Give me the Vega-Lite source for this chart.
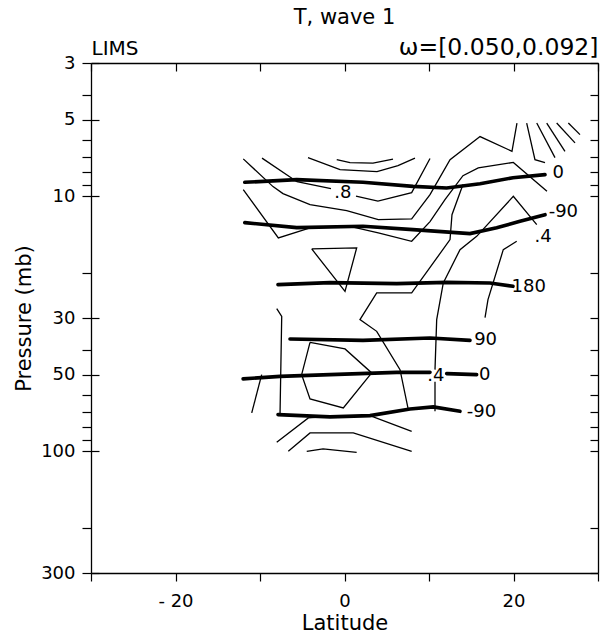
{
  "$schema": "https://vega.github.io/schema/vega-lite/v6.json",
  "width": 507,
  "height": 510,
  "autosize": {"type": "none"},
  "padding": {"left": 91, "top": 63, "right": 2, "bottom": 65},
  "background": "white",
  "config": {
    "view": {"stroke": null},
    "font": "DejaVu Sans",
    "axis": {
      "domainColor": "black", "domainWidth": 1.3,
      "tickColor": "black", "tickWidth": 1.2,
      "labelColor": "black", "titleColor": "black",
      "labelFont": "DejaVu Sans", "titleFont": "DejaVu Sans",
      "labelFontSize": 18, "titleFontSize": 21, "titleFontWeight": "normal",
      "grid": false, "labelFlush": false, "labelOverlap": false
    }
  },
  "title": {"text": "T, wave 1", "fontSize": 21, "fontWeight": "normal", "font": "DejaVu Sans", "color": "black", "frame": "group", "anchor": "middle", "offset": 7},
  "datasets": {
    "contours": [
      {"id": "P1", "kind": "phase", "i": 0, "lat": -11.8, "p": 8.81},
      {"id": "P1", "kind": "phase", "i": 1, "lat": -5.66, "p": 8.6},
      {"id": "P1", "kind": "phase", "i": 2, "lat": 2.19, "p": 8.81},
      {"id": "P1", "kind": "phase", "i": 3, "lat": 8.11, "p": 9.14},
      {"id": "P1", "kind": "phase", "i": 4, "lat": 12.09, "p": 9.27},
      {"id": "P1", "kind": "phase", "i": 5, "lat": 16.04, "p": 8.92},
      {"id": "P1", "kind": "phase", "i": 6, "lat": 19.94, "p": 8.45},
      {"id": "P1", "kind": "phase", "i": 7, "lat": 23.73, "p": 8.22},

      {"id": "P2", "kind": "phase", "i": 0, "lat": -11.8, "p": 12.68},
      {"id": "P2", "kind": "phase", "i": 1, "lat": -5.66, "p": 13.27},
      {"id": "P2", "kind": "phase", "i": 2, "lat": 2.19, "p": 13.11},
      {"id": "P2", "kind": "phase", "i": 3, "lat": 8.11, "p": 13.51},
      {"id": "P2", "kind": "phase", "i": 4, "lat": 14.85, "p": 14.0},
      {"id": "P2", "kind": "phase", "i": 5, "lat": 18.01, "p": 13.27},
      {"id": "P2", "kind": "phase", "i": 6, "lat": 20.77, "p": 12.53},
      {"id": "P2", "kind": "phase", "i": 7, "lat": 23.73, "p": 11.8},

      {"id": "P3", "kind": "phase", "i": 0, "lat": -7.87, "p": 22.2},
      {"id": "P3", "kind": "phase", "i": 1, "lat": -1.72, "p": 21.8},
      {"id": "P3", "kind": "phase", "i": 2, "lat": 6.18, "p": 22.0},
      {"id": "P3", "kind": "phase", "i": 3, "lat": 12.09, "p": 21.74},
      {"id": "P3", "kind": "phase", "i": 4, "lat": 17.22, "p": 21.86},
      {"id": "P3", "kind": "phase", "i": 5, "lat": 19.94, "p": 22.54},

      {"id": "P4", "kind": "phase", "i": 0, "lat": -6.45, "p": 36.25},
      {"id": "P4", "kind": "phase", "i": 1, "lat": 2.19, "p": 36.71},
      {"id": "P4", "kind": "phase", "i": 2, "lat": 10.12, "p": 35.92},
      {"id": "P4", "kind": "phase", "i": 3, "lat": 14.85, "p": 36.71},

      {"id": "P5a", "kind": "phase", "i": 0, "lat": -12.0, "p": 52.0},
      {"id": "P5a", "kind": "phase", "i": 1, "lat": -7.63, "p": 50.81},
      {"id": "P5a", "kind": "phase", "i": 2, "lat": -1.72, "p": 50.04},
      {"id": "P5a", "kind": "phase", "i": 3, "lat": 6.18, "p": 49.0},
      {"id": "P5a", "kind": "phase", "i": 4, "lat": 10.12, "p": 49.0},
      {"id": "P5b", "kind": "phase", "i": 0, "lat": 12.09, "p": 49.59},
      {"id": "P5b", "kind": "phase", "i": 1, "lat": 15.64, "p": 50.04},

      {"id": "P6", "kind": "phase", "i": 0, "lat": -7.87, "p": 71.79},
      {"id": "P6", "kind": "phase", "i": 1, "lat": -1.72, "p": 73.29},
      {"id": "P6", "kind": "phase", "i": 2, "lat": 3.02, "p": 72.44},
      {"id": "P6", "kind": "phase", "i": 3, "lat": 7.75, "p": 68.19},
      {"id": "P6", "kind": "phase", "i": 4, "lat": 10.51, "p": 66.97},
      {"id": "P6", "kind": "phase", "i": 5, "lat": 13.67, "p": 69.68},

      {"id": "A1", "kind": "amplitude", "i": 0, "lat": -0.92, "p": 7.18},
      {"id": "A1", "kind": "amplitude", "i": 1, "lat": 0.65, "p": 7.38},
      {"id": "A1", "kind": "amplitude", "i": 2, "lat": 3.37, "p": 7.41},
      {"id": "A1", "kind": "amplitude", "i": 3, "lat": 5.74, "p": 7.15},

      {"id": "A2", "kind": "amplitude", "i": 0, "lat": -4.32, "p": 7.05},
      {"id": "A2", "kind": "amplitude", "i": 1, "lat": -0.53, "p": 7.86},
      {"id": "A2", "kind": "amplitude", "i": 2, "lat": 3.85, "p": 8.0},
      {"id": "A2", "kind": "amplitude", "i": 3, "lat": 6.33, "p": 7.58},
      {"id": "A2", "kind": "amplitude", "i": 4, "lat": 8.34, "p": 7.08},

      {"id": "A3a", "kind": "amplitude", "i": 0, "lat": -9.76, "p": 7.08},
      {"id": "A3a", "kind": "amplitude", "i": 1, "lat": -5.62, "p": 8.76},
      {"id": "A3a", "kind": "amplitude", "i": 2, "lat": -1.6, "p": 9.33},
      {"id": "A3b", "kind": "amplitude", "i": 0, "lat": 1.36, "p": 9.98},
      {"id": "A3b", "kind": "amplitude", "i": 1, "lat": 3.96, "p": 10.44},
      {"id": "A3b", "kind": "amplitude", "i": 2, "lat": 7.95, "p": 9.67},
      {"id": "A3b", "kind": "amplitude", "i": 3, "lat": 10.12, "p": 7.11},

      {"id": "A4", "kind": "amplitude", "i": 0, "lat": -11.98, "p": 7.13},
      {"id": "A4", "kind": "amplitude", "i": 1, "lat": -8.46, "p": 9.16},
      {"id": "A4", "kind": "amplitude", "i": 2, "lat": -7.28, "p": 9.76},
      {"id": "A4", "kind": "amplitude", "i": 3, "lat": -4.08, "p": 10.78},
      {"id": "A4", "kind": "amplitude", "i": 4, "lat": 0.26, "p": 11.38},
      {"id": "A4", "kind": "amplitude", "i": 5, "lat": 4.0, "p": 12.34},
      {"id": "A4", "kind": "amplitude", "i": 6, "lat": 7.95, "p": 12.26},
      {"id": "A4", "kind": "amplitude", "i": 7, "lat": 10.12, "p": 9.85},
      {"id": "A4", "kind": "amplitude", "i": 8, "lat": 12.49, "p": 7.18},
      {"id": "A4", "kind": "amplitude", "i": 9, "lat": 16.04, "p": 5.83},
      {"id": "A4", "kind": "amplitude", "i": 10, "lat": 19.82, "p": 6.66},
      {"id": "A4", "kind": "amplitude", "i": 11, "lat": 20.41, "p": 5.16},

      {"id": "A5", "kind": "amplitude", "i": 0, "lat": -11.98, "p": 9.41},
      {"id": "A5", "kind": "amplitude", "i": 1, "lat": -7.83, "p": 14.56},
      {"id": "A5", "kind": "amplitude", "i": 2, "lat": -4.08, "p": 13.3},
      {"id": "A5", "kind": "amplitude", "i": 3, "lat": 0.26, "p": 13.03},
      {"id": "A5", "kind": "amplitude", "i": 4, "lat": 4.0, "p": 13.92},
      {"id": "A5", "kind": "amplitude", "i": 5, "lat": 7.95, "p": 15.01},
      {"id": "A5", "kind": "amplitude", "i": 6, "lat": 10.12, "p": 12.56},
      {"id": "A5", "kind": "amplitude", "i": 7, "lat": 11.89, "p": 10.3},
      {"id": "A5", "kind": "amplitude", "i": 8, "lat": 14.02, "p": 8.3},
      {"id": "A5", "kind": "amplitude", "i": 9, "lat": 15.83, "p": 7.74},
      {"id": "A5", "kind": "amplitude", "i": 10, "lat": 19.98, "p": 7.36},
      {"id": "A5", "kind": "amplitude", "i": 11, "lat": 23.96, "p": 9.56},

      {"id": "A6", "kind": "amplitude", "i": 0, "lat": 14.02, "p": 8.99},
      {"id": "A6", "kind": "amplitude", "i": 1, "lat": 12.72, "p": 11.8},
      {"id": "A6", "kind": "amplitude", "i": 2, "lat": 12.49, "p": 14.78},
      {"id": "A6", "kind": "amplitude", "i": 3, "lat": 7.95, "p": 23.92},
      {"id": "A6", "kind": "amplitude", "i": 4, "lat": 3.81, "p": 23.92},
      {"id": "A6", "kind": "amplitude", "i": 5, "lat": 1.83, "p": 30.45},
      {"id": "A6", "kind": "amplitude", "i": 6, "lat": 3.81, "p": 33.84},
      {"id": "A6", "kind": "amplitude", "i": 7, "lat": 6.57, "p": 47.82},
      {"id": "A6", "kind": "amplitude", "i": 8, "lat": 7.55, "p": 68.62},

      {"id": "A7a", "kind": "amplitude", "i": 0, "lat": 22.75, "p": 12.91},
      {"id": "A7a", "kind": "amplitude", "i": 1, "lat": 19.98, "p": 10.0},
      {"id": "A7a", "kind": "amplitude", "i": 2, "lat": 15.64, "p": 14.35},
      {"id": "A7a", "kind": "amplitude", "i": 3, "lat": 13.67, "p": 16.18},
      {"id": "A7a", "kind": "amplitude", "i": 4, "lat": 11.69, "p": 21.86},
      {"id": "A7a", "kind": "amplitude", "i": 5, "lat": 10.91, "p": 30.45},
      {"id": "A7a", "kind": "amplitude", "i": 6, "lat": 10.71, "p": 47.82},
      {"id": "A7b", "kind": "amplitude", "i": 0, "lat": 10.71, "p": 53.3},
      {"id": "A7b", "kind": "amplitude", "i": 1, "lat": 10.71, "p": 69.68},

      {"id": "A8", "kind": "amplitude", "i": 0, "lat": 20.38, "p": 15.01},
      {"id": "A8", "kind": "amplitude", "i": 1, "lat": 18.79, "p": 16.18},
      {"id": "A8", "kind": "amplitude", "i": 2, "lat": 16.98, "p": 25.42},
      {"id": "A8", "kind": "amplitude", "i": 3, "lat": 16.63, "p": 29.9},

      {"id": "A9", "kind": "amplitude", "i": 0, "lat": -3.88, "p": 16.08},
      {"id": "A9", "kind": "amplitude", "i": 1, "lat": 1.44, "p": 15.94},
      {"id": "A9", "kind": "amplitude", "i": 2, "lat": 0.06, "p": 23.58},
      {"id": "A9", "kind": "amplitude", "i": 3, "lat": -3.88, "p": 16.08},

      {"id": "A10", "kind": "amplitude", "i": 0, "lat": -8.02, "p": 27.56},
      {"id": "A10", "kind": "amplitude", "i": 1, "lat": -7.43, "p": 29.55},
      {"id": "A10", "kind": "amplitude", "i": 2, "lat": -7.63, "p": 71.79},

      {"id": "A11", "kind": "amplitude", "i": 0, "lat": -4.08, "p": 37.38},
      {"id": "A11", "kind": "amplitude", "i": 1, "lat": 0.06, "p": 39.67},
      {"id": "A11", "kind": "amplitude", "i": 2, "lat": 3.22, "p": 49.27},
      {"id": "A11", "kind": "amplitude", "i": 3, "lat": -0.14, "p": 67.58},
      {"id": "A11", "kind": "amplitude", "i": 4, "lat": -4.08, "p": 62.31},
      {"id": "A11", "kind": "amplitude", "i": 5, "lat": -5.07, "p": 50.04},
      {"id": "A11", "kind": "amplitude", "i": 6, "lat": -4.08, "p": 37.38},

      {"id": "A12", "kind": "amplitude", "i": 0, "lat": -9.8, "p": 50.04},
      {"id": "A12", "kind": "amplitude", "i": 1, "lat": -10.98, "p": 70.7},

      {"id": "A13", "kind": "amplitude", "i": 0, "lat": -8.02, "p": 92.19},
      {"id": "A13", "kind": "amplitude", "i": 1, "lat": -4.28, "p": 73.96},
      {"id": "A13", "kind": "amplitude", "i": 2, "lat": -0.53, "p": 72.44},
      {"id": "A13", "kind": "amplitude", "i": 3, "lat": 3.02, "p": 72.44},
      {"id": "A13", "kind": "amplitude", "i": 4, "lat": 7.95, "p": 83.5},

      {"id": "A14", "kind": "amplitude", "i": 0, "lat": -6.65, "p": 100},
      {"id": "A14", "kind": "amplitude", "i": 1, "lat": -4.08, "p": 84.71},
      {"id": "A14", "kind": "amplitude", "i": 2, "lat": 1.04, "p": 84.71},
      {"id": "A14", "kind": "amplitude", "i": 3, "lat": 7.95, "p": 100},

      {"id": "A15", "kind": "amplitude", "i": 0, "lat": -4.47, "p": 100},
      {"id": "A15", "kind": "amplitude", "i": 1, "lat": -2.54, "p": 97.87},
      {"id": "A15", "kind": "amplitude", "i": 2, "lat": 1.44, "p": 100.9},

      {"id": "R1", "kind": "amplitude", "i": 0, "lat": 21.56, "p": 5.16},
      {"id": "R1", "kind": "amplitude", "i": 1, "lat": 22.54, "p": 7.18},
      {"id": "R1", "kind": "amplitude", "i": 2, "lat": 23.73, "p": 7.38},
      {"id": "R2", "kind": "amplitude", "i": 0, "lat": 22.75, "p": 5.16},
      {"id": "R2", "kind": "amplitude", "i": 1, "lat": 24.91, "p": 7.05},
      {"id": "R3", "kind": "amplitude", "i": 0, "lat": 23.93, "p": 5.16},
      {"id": "R3", "kind": "amplitude", "i": 1, "lat": 26.09, "p": 6.66},
      {"id": "R4", "kind": "amplitude", "i": 0, "lat": 25.11, "p": 5.16},
      {"id": "R4", "kind": "amplitude", "i": 1, "lat": 27.28, "p": 6.17},
      {"id": "R5", "kind": "amplitude", "i": 0, "lat": 26.49, "p": 5.16},
      {"id": "R5", "kind": "amplitude", "i": 1, "lat": 27.87, "p": 5.73}
    ],
    "labels": [
      {"lat": 25.3, "p": 8.1, "text": "0"},
      {"lat": 25.9, "p": 11.5, "text": "-90"},
      {"lat": 21.8, "p": 22.6, "text": "180"},
      {"lat": 16.7, "p": 36.7, "text": "90"},
      {"lat": 16.6, "p": 50.0, "text": "0"},
      {"lat": 16.2, "p": 69.9, "text": "-90"},
      {"lat": -0.2, "p": 9.67, "text": ".8"},
      {"lat": 23.5, "p": 14.5, "text": ".4"},
      {"lat": 10.8, "p": 50.8, "text": ".4"}
    ]
  },
  "layer": [
    {
      "data": {"name": "contours"},
      "transform": [{"filter": "datum.kind == 'amplitude'"}],
      "mark": {"type": "line", "color": "black", "strokeWidth": 1.3},
      "encoding": {
        "x": {
          "field": "lat", "type": "quantitative",
          "scale": {"domain": [-30, 30], "nice": false, "zero": false},
          "axis": {
            "orient": "bottom",
            "values": [-30, -20, -10, 0, 10, 20, 30],
            "labelExpr": "datum.value == -20 ? '- 20' : (datum.value == 0 || datum.value == 20 ? '' + datum.value : '')",
            "tickSize": 8, "labelPadding": 11,
            "title": "Latitude", "titlePadding": 2
          }
        },
        "y": {
          "field": "p", "type": "quantitative",
          "scale": {"type": "log", "domain": [3, 300], "reverse": true, "nice": false},
          "axis": {
            "orient": "left",
            "values": [3, 4, 5, 6, 7, 8, 9, 10, 20, 30, 40, 50, 60, 70, 80, 90, 100, 200, 300],
            "labelExpr": "indexof([3, 5, 10, 30, 50, 100, 300], datum.value) >= 0 ? format(datum.value, 'd') : ''",
            "tickSize": 9, "labelPadding": 7,
            "title": "Pressure (mb)", "titlePadding": 6
          }
        },
        "detail": {"field": "id"},
        "order": {"field": "i"}
      }
    },
    {
      "data": {"name": "contours"},
      "transform": [{"filter": "datum.kind == 'phase'"}],
      "mark": {"type": "line", "color": "black", "strokeWidth": 3.6, "strokeCap": "round"},
      "encoding": {
        "x": {
          "field": "lat", "type": "quantitative",
          "scale": {"domain": [-30, 30], "nice": false, "zero": false},
          "axis": {
            "orient": "top",
            "values": [-30, -20, -10, 0, 10, 20, 30],
            "labels": false, "tickSize": -8,
            "title": "LIMS", "titleX": 0, "titleY": -9, "titleFontSize": 20,
            "titleAlign": "left", "titleBaseline": "alphabetic", "titleAngle": 0
          }
        },
        "y": {
          "field": "p", "type": "quantitative",
          "scale": {"type": "log", "domain": [3, 300], "reverse": true, "nice": false},
          "axis": {
            "orient": "right",
            "values": [3, 4, 5, 6, 7, 8, 9, 10, 20, 30, 40, 50, 60, 70, 80, 90, 100, 200, 300],
            "labels": false, "tickSize": -8,
            "title": "ω=[0.050,0.092]", "titleX": 0, "titleY": -9,
            "titleAlign": "right", "titleBaseline": "alphabetic", "titleAngle": 0, "titleFontSize": 23.5
          }
        },
        "detail": {"field": "id"},
        "order": {"field": "i"}
      }
    },
    {
      "data": {"name": "labels"},
      "mark": {"type": "text", "color": "black", "fontSize": 18, "font": "DejaVu Sans", "align": "center", "baseline": "middle"},
      "encoding": {
        "x": {
          "field": "lat", "type": "quantitative",
          "scale": {"domain": [-30, 30], "nice": false, "zero": false},
          "axis": null
        },
        "y": {
          "field": "p", "type": "quantitative",
          "scale": {"type": "log", "domain": [3, 300], "reverse": true, "nice": false},
          "axis": {
            "orient": "left",
            "values": [3, 5, 10, 30, 50, 100, 300],
            "labels": false, "domain": false, "tickSize": -8, "title": null
          }
        },
        "text": {"field": "text"}
      }
    }
  ],
  "resolve": {"axis": {"x": "independent", "y": "independent"}}
}
